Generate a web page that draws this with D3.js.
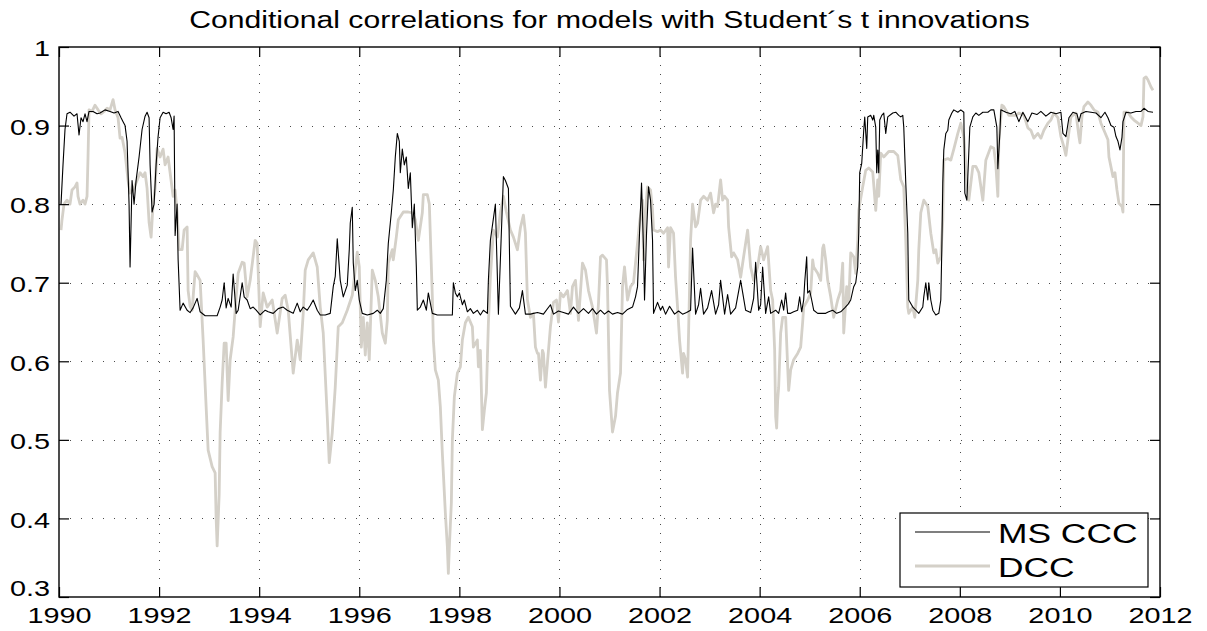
<!DOCTYPE html>
<html>
<head>
<meta charset="utf-8">
<script src="https://cdn.jsdelivr.net/npm/d3@7"></script>
<style>
  body { margin: 0; background: #fff; }
  svg { display: block; font-family: "Liberation Sans", Arial, sans-serif; }
</style>
</head>
<body>
<svg id="chart" width="1207" height="631" viewBox="0 0 1207 631"></svg>
<script>
const title = "Conditional correlations for models with Student´s t innovations";
const yearTicks = [1990, 1992, 1994, 1996, 1998, 2000, 2002, 2004, 2006, 2008, 2010, 2012];
const valueTicks = [0.3, 0.4, 0.5, 0.6, 0.7, 0.8, 0.9, 1];
const seriesNames = ["MS CCC", "DCC"];

// MS CCC (black)
const msYears = [
  1990.04, 1990.08, 1990.12, 1990.16, 1990.22, 1990.30, 1990.36, 1990.40, 1990.44, 1990.48,
  1990.52, 1990.56, 1990.60, 1990.68, 1990.76, 1990.82, 1990.92, 1991.02, 1991.10, 1991.18,
  1991.24, 1991.28, 1991.32, 1991.36, 1991.40, 1991.42, 1991.46, 1991.50, 1991.54, 1991.60,
  1991.66, 1991.72, 1991.76, 1991.80, 1991.82, 1991.86, 1991.90, 1991.94, 1991.98, 1992.02,
  1992.08, 1992.14, 1992.20, 1992.24, 1992.28, 1992.30, 1992.32, 1992.36, 1992.38, 1992.42,
  1992.48, 1992.56, 1992.62, 1992.68, 1992.76, 1992.82, 1992.92, 1993.16, 1993.22, 1993.26,
  1993.30, 1993.34, 1993.38, 1993.44, 1993.48, 1993.54, 1993.58, 1993.66, 1993.70, 1993.76,
  1993.82, 1993.88, 1993.94, 1994.02, 1994.12, 1994.18, 1994.28, 1994.38, 1994.48, 1994.56,
  1994.62, 1994.68, 1994.76, 1994.82, 1994.88, 1994.96, 1995.02, 1995.08, 1995.16, 1995.22,
  1995.32, 1995.42, 1995.48, 1995.52, 1995.56, 1995.62, 1995.68, 1995.76, 1995.80, 1995.82,
  1995.86, 1995.88, 1995.92, 1995.96, 1996.00, 1996.06, 1996.16, 1996.28, 1996.36, 1996.42,
  1996.48, 1996.54, 1996.58, 1996.64, 1996.68, 1996.72, 1996.76, 1996.80, 1996.82, 1996.86,
  1996.90, 1996.94, 1996.98, 1997.02, 1997.06, 1997.10, 1997.14, 1997.16, 1997.22, 1997.28,
  1997.34, 1997.38, 1997.46, 1997.56, 1997.76, 1997.86, 1997.88, 1997.92, 1997.96, 1998.00,
  1998.06, 1998.10, 1998.16, 1998.22, 1998.28, 1998.36, 1998.42, 1998.48, 1998.56, 1998.58,
  1998.62, 1998.72, 1998.78, 1998.88, 1998.92, 1998.98, 1999.02, 1999.12, 1999.20, 1999.26,
  1999.32, 1999.42, 1999.56, 1999.68, 1999.82, 1999.88, 1999.98, 2000.08, 2000.18, 2000.28,
  2000.38, 2000.48, 2000.58, 2000.66, 2000.74, 2000.82, 2000.90, 2000.98, 2001.06, 2001.16,
  2001.26, 2001.36, 2001.46, 2001.52, 2001.56, 2001.60, 2001.64, 2001.68, 2001.70, 2001.74,
  2001.78, 2001.82, 2001.86, 2001.88, 2001.96, 2002.02, 2002.06, 2002.12, 2002.20, 2002.30,
  2002.38, 2002.46, 2002.54, 2002.62, 2002.66, 2002.72, 2002.78, 2002.82, 2002.88, 2002.96,
  2003.04, 2003.12, 2003.18, 2003.22, 2003.30, 2003.36, 2003.42, 2003.52, 2003.62, 2003.72,
  2003.82, 2003.88, 2003.92, 2003.98, 2004.02, 2004.06, 2004.12, 2004.18, 2004.22, 2004.32,
  2004.38, 2004.44, 2004.48, 2004.52, 2004.56, 2004.62, 2004.68, 2004.76, 2004.80, 2004.84,
  2004.88, 2004.90, 2004.94, 2004.96, 2005.00, 2005.04, 2005.08, 2005.16, 2005.26, 2005.32,
  2005.38, 2005.46, 2005.54, 2005.62, 2005.70, 2005.76, 2005.82, 2005.88, 2005.92, 2005.96,
  2005.98, 2006.00, 2006.04, 2006.08, 2006.10, 2006.14, 2006.16, 2006.22, 2006.26, 2006.28,
  2006.32, 2006.34, 2006.36, 2006.38, 2006.40, 2006.44, 2006.48, 2006.52, 2006.56, 2006.66,
  2006.72, 2006.78, 2006.82, 2006.86, 2006.88, 2006.92, 2006.96, 2006.98, 2007.06, 2007.12,
  2007.18, 2007.26, 2007.28, 2007.32, 2007.36, 2007.38, 2007.42, 2007.46, 2007.52, 2007.58,
  2007.62, 2007.64, 2007.66, 2007.68, 2007.72, 2007.76, 2007.78, 2007.84, 2007.88, 2007.96,
  2008.02, 2008.08, 2008.10, 2008.14, 2008.16, 2008.20, 2008.26, 2008.32, 2008.38, 2008.46,
  2008.56, 2008.62, 2008.68, 2008.74, 2008.76, 2008.80, 2008.82, 2008.92, 2009.02, 2009.10,
  2009.18, 2009.26, 2009.36, 2009.44, 2009.54, 2009.62, 2009.72, 2009.82, 2009.92, 2010.02,
  2010.06, 2010.12, 2010.18, 2010.26, 2010.34, 2010.38, 2010.42, 2010.52, 2010.62, 2010.72,
  2010.82, 2010.90, 2010.96, 2011.02, 2011.08, 2011.12, 2011.16, 2011.20, 2011.24, 2011.26,
  2011.32, 2011.42, 2011.52, 2011.62, 2011.68, 2011.76, 2011.86
];
const msValues = [
  0.800, 0.850, 0.895, 0.915, 0.917, 0.912, 0.915, 0.888, 0.910, 0.905,
  0.915, 0.905, 0.918, 0.918, 0.915, 0.916, 0.920, 0.918, 0.916, 0.918,
  0.910, 0.905, 0.900, 0.880, 0.800, 0.720, 0.830, 0.800, 0.830, 0.860,
  0.895, 0.912, 0.917, 0.910, 0.850, 0.790, 0.800, 0.850, 0.886, 0.910,
  0.917, 0.915, 0.917, 0.910, 0.895, 0.912, 0.760, 0.800, 0.730, 0.665,
  0.674, 0.665, 0.662, 0.668, 0.680, 0.663, 0.658, 0.658, 0.669, 0.678,
  0.700, 0.668, 0.680, 0.669, 0.711, 0.661, 0.665, 0.700, 0.682, 0.678,
  0.667, 0.669, 0.665, 0.659, 0.665, 0.663, 0.661, 0.667, 0.669, 0.665,
  0.663, 0.661, 0.674, 0.663, 0.669, 0.665, 0.671, 0.678, 0.665, 0.659,
  0.659, 0.661, 0.695, 0.708, 0.756, 0.703, 0.682, 0.697, 0.742, 0.776,
  0.796, 0.725, 0.690, 0.703, 0.678, 0.661, 0.659, 0.661, 0.665, 0.661,
  0.667, 0.703, 0.750, 0.789, 0.818, 0.860, 0.890, 0.880, 0.840, 0.870,
  0.850, 0.860, 0.820, 0.840, 0.770, 0.800, 0.720, 0.665, 0.669, 0.678,
  0.665, 0.687, 0.661, 0.659, 0.659, 0.659, 0.700, 0.687, 0.682, 0.687,
  0.672, 0.678, 0.663, 0.667, 0.661, 0.665, 0.659, 0.665, 0.661, 0.703,
  0.754, 0.800, 0.660, 0.835, 0.830, 0.820, 0.670, 0.660, 0.668, 0.690,
  0.660, 0.660, 0.662, 0.660, 0.672, 0.660, 0.664, 0.662, 0.660, 0.669,
  0.661, 0.667, 0.661, 0.667, 0.660, 0.665, 0.660, 0.664, 0.660, 0.662,
  0.660, 0.666, 0.669, 0.682, 0.695, 0.763, 0.827, 0.742, 0.678, 0.763,
  0.822, 0.805, 0.754, 0.661, 0.675, 0.665, 0.670, 0.660, 0.670, 0.660,
  0.664, 0.660, 0.662, 0.665, 0.744, 0.660, 0.672, 0.693, 0.660, 0.668,
  0.690, 0.660, 0.672, 0.703, 0.660, 0.685, 0.660, 0.668, 0.703, 0.665,
  0.662, 0.680, 0.726, 0.665, 0.672, 0.720, 0.661, 0.682, 0.661, 0.665,
  0.661, 0.678, 0.665, 0.687, 0.661, 0.661, 0.663, 0.665, 0.682, 0.663,
  0.678, 0.700, 0.733, 0.687, 0.690, 0.678, 0.665, 0.661, 0.661, 0.661,
  0.663, 0.665, 0.661, 0.663, 0.668, 0.672, 0.678, 0.695, 0.700, 0.720,
  0.763, 0.840, 0.852, 0.894, 0.911, 0.871, 0.911, 0.913, 0.907, 0.913,
  0.898, 0.840, 0.869, 0.840, 0.907, 0.913, 0.916, 0.890, 0.911, 0.916,
  0.917, 0.913, 0.911, 0.913, 0.898, 0.827, 0.763, 0.678, 0.669, 0.665,
  0.661, 0.669, 0.682, 0.700, 0.678, 0.700, 0.678, 0.665, 0.659, 0.661,
  0.678, 0.742, 0.827, 0.869, 0.890, 0.894, 0.907, 0.916, 0.920, 0.917,
  0.920, 0.917, 0.814, 0.805, 0.835, 0.898, 0.911, 0.916, 0.913, 0.917,
  0.917, 0.920, 0.920, 0.898, 0.845, 0.890, 0.920, 0.917, 0.915, 0.918,
  0.905, 0.917, 0.905, 0.916, 0.914, 0.918, 0.912, 0.917, 0.915, 0.917,
  0.890, 0.886, 0.910, 0.917, 0.915, 0.905, 0.915, 0.918, 0.917, 0.916,
  0.910, 0.917, 0.910, 0.900, 0.898, 0.886, 0.880, 0.869, 0.885, 0.905,
  0.917, 0.916, 0.918, 0.918, 0.922, 0.918, 0.917
];

// DCC (light grey)
const dccYears = [
  1990.04, 1990.06, 1990.10, 1990.16, 1990.22, 1990.26, 1990.32, 1990.36, 1990.38, 1990.42,
  1990.48, 1990.52, 1990.56, 1990.58, 1990.60, 1990.66, 1990.72, 1990.78, 1990.84, 1990.90,
  1990.96, 1991.02, 1991.08, 1991.12, 1991.18, 1991.22, 1991.26, 1991.32, 1991.38, 1991.42,
  1991.48, 1991.56, 1991.62, 1991.68, 1991.72, 1991.76, 1991.80, 1991.84, 1991.88, 1991.92,
  1991.96, 1992.02, 1992.08, 1992.12, 1992.18, 1992.22, 1992.28, 1992.32, 1992.36, 1992.40,
  1992.46, 1992.50, 1992.56, 1992.58, 1992.62, 1992.66, 1992.72, 1992.76, 1992.82, 1992.88,
  1992.94, 1992.98, 1993.06, 1993.12, 1993.14, 1993.16, 1993.20, 1993.22, 1993.26, 1993.30,
  1993.34, 1993.38, 1993.42, 1993.48, 1993.54, 1993.58, 1993.66, 1993.70, 1993.76, 1993.82,
  1993.92, 1993.96, 1994.02, 1994.08, 1994.16, 1994.26, 1994.36, 1994.46, 1994.52, 1994.58,
  1994.68, 1994.76, 1994.82, 1994.88, 1994.92, 1994.98, 1995.08, 1995.16, 1995.22, 1995.28,
  1995.36, 1995.40, 1995.46, 1995.52, 1995.58, 1995.66, 1995.76, 1995.86, 1995.96, 1996.00,
  1996.04, 1996.08, 1996.12, 1996.16, 1996.20, 1996.26, 1996.32, 1996.38, 1996.46, 1996.52,
  1996.56, 1996.58, 1996.66, 1996.68, 1996.74, 1996.78, 1996.88, 1996.98, 1997.06, 1997.12,
  1997.18, 1997.26, 1997.28, 1997.36, 1997.40, 1997.46, 1997.48, 1997.52, 1997.58, 1997.62,
  1997.66, 1997.68, 1997.72, 1997.76, 1997.78, 1997.80, 1997.84, 1997.86, 1997.90, 1997.96,
  1998.02, 1998.06, 1998.12, 1998.18, 1998.26, 1998.28, 1998.36, 1998.38, 1998.42, 1998.46,
  1998.50, 1998.54, 1998.58, 1998.62, 1998.68, 1998.76, 1998.82, 1998.88, 1998.94, 1999.02,
  1999.08, 1999.16, 1999.22, 1999.28, 1999.32, 1999.36, 1999.42, 1999.48, 1999.52, 1999.56,
  1999.58, 1999.62, 1999.66, 1999.68, 1999.72, 1999.76, 1999.82, 1999.88, 1999.94, 1999.98,
  2000.02, 2000.08, 2000.16, 2000.22, 2000.26, 2000.32, 2000.38, 2000.46, 2000.52, 2000.58,
  2000.66, 2000.74, 2000.78, 2000.82, 2000.86, 2000.94, 2000.96, 2001.00, 2001.06, 2001.12,
  2001.16, 2001.22, 2001.26, 2001.30, 2001.36, 2001.42, 2001.48, 2001.56, 2001.60, 2001.66,
  2001.68, 2001.72, 2001.76, 2001.82, 2001.86, 2001.88, 2001.96, 2002.02, 2002.08, 2002.16,
  2002.18, 2002.22, 2002.28, 2002.32, 2002.36, 2002.40, 2002.46, 2002.48, 2002.52, 2002.56,
  2002.58, 2002.62, 2002.66, 2002.72, 2002.76, 2002.82, 2002.88, 2002.96, 2003.02, 2003.08,
  2003.12, 2003.16, 2003.22, 2003.26, 2003.30, 2003.36, 2003.38, 2003.44, 2003.48, 2003.56,
  2003.62, 2003.68, 2003.76, 2003.82, 2003.88, 2003.96, 2004.02, 2004.08, 2004.16, 2004.22,
  2004.26, 2004.30, 2004.32, 2004.34, 2004.36, 2004.38, 2004.42, 2004.46, 2004.52, 2004.56,
  2004.58, 2004.62, 2004.68, 2004.76, 2004.82, 2004.86, 2004.88, 2004.96, 2005.02, 2005.06,
  2005.08, 2005.16, 2005.22, 2005.26, 2005.28, 2005.32, 2005.36, 2005.42, 2005.48, 2005.56,
  2005.62, 2005.66, 2005.68, 2005.74, 2005.78, 2005.82, 2005.88, 2005.92, 2005.96, 2005.98,
  2006.00, 2006.06, 2006.12, 2006.18, 2006.26, 2006.32, 2006.36, 2006.38, 2006.42, 2006.48,
  2006.58, 2006.68, 2006.76, 2006.82, 2006.88, 2006.92, 2006.96, 2006.98, 2007.06, 2007.10,
  2007.16, 2007.18, 2007.22, 2007.28, 2007.36, 2007.42, 2007.48, 2007.52, 2007.56, 2007.62,
  2007.66, 2007.68, 2007.76, 2007.82, 2007.88, 2007.96, 2008.02, 2008.08, 2008.14, 2008.18,
  2008.26, 2008.32, 2008.38, 2008.46, 2008.52, 2008.62, 2008.68, 2008.72, 2008.76, 2008.78,
  2008.84, 2008.88, 2008.98, 2009.12, 2009.18, 2009.28, 2009.36, 2009.42, 2009.48, 2009.56,
  2009.62, 2009.68, 2009.76, 2009.82, 2009.88, 2009.96, 2010.02, 2010.08, 2010.12, 2010.16,
  2010.22, 2010.32, 2010.38, 2010.40, 2010.44, 2010.48, 2010.56, 2010.62, 2010.68, 2010.76,
  2010.82, 2010.88, 2010.96, 2010.98, 2011.06, 2011.10, 2011.14, 2011.18, 2011.24, 2011.26,
  2011.28, 2011.36, 2011.42, 2011.48, 2011.56, 2011.62, 2011.66, 2011.68, 2011.72, 2011.76,
  2011.82, 2011.86
];
const dccValues = [
  0.767, 0.780, 0.800, 0.805, 0.800, 0.818, 0.822, 0.827, 0.810, 0.800,
  0.805, 0.800, 0.810, 0.860, 0.920, 0.918, 0.926, 0.920, 0.915, 0.918,
  0.922, 0.920, 0.933, 0.920, 0.910, 0.884, 0.885, 0.865, 0.830, 0.814,
  0.818, 0.830, 0.840, 0.835, 0.840, 0.820, 0.777, 0.758, 0.800, 0.820,
  0.871, 0.860, 0.870, 0.850, 0.860, 0.840, 0.810, 0.818, 0.790, 0.742,
  0.742, 0.767, 0.771, 0.690, 0.670, 0.665, 0.714, 0.710, 0.703, 0.627,
  0.542, 0.487, 0.466, 0.458, 0.400, 0.365, 0.430, 0.510, 0.572, 0.623,
  0.623, 0.550, 0.602, 0.631, 0.682, 0.712, 0.726, 0.725, 0.682, 0.703,
  0.754, 0.750, 0.644, 0.687, 0.669, 0.678, 0.636, 0.680, 0.684, 0.665,
  0.585, 0.627, 0.602, 0.661, 0.716, 0.729, 0.738, 0.720, 0.669, 0.636,
  0.530, 0.471, 0.509, 0.567, 0.644, 0.649, 0.665, 0.684, 0.739, 0.720,
  0.618, 0.656, 0.608, 0.649, 0.602, 0.716, 0.703, 0.682, 0.636, 0.623,
  0.652, 0.725, 0.742, 0.729, 0.758, 0.780, 0.790, 0.790, 0.789, 0.780,
  0.754, 0.789, 0.812, 0.812, 0.800, 0.682, 0.627, 0.589, 0.576, 0.542,
  0.483, 0.458, 0.407, 0.364, 0.330, 0.364, 0.420, 0.500, 0.555, 0.585,
  0.593, 0.627, 0.649, 0.656, 0.644, 0.618, 0.627, 0.593, 0.614, 0.513,
  0.538, 0.560, 0.649, 0.707, 0.767, 0.758, 0.789, 0.810, 0.790, 0.767,
  0.758, 0.742, 0.770, 0.786, 0.763, 0.678, 0.656, 0.661, 0.618, 0.610,
  0.610, 0.576, 0.614, 0.610, 0.567, 0.598, 0.644, 0.675, 0.678, 0.650,
  0.687, 0.682, 0.690, 0.661, 0.695, 0.703, 0.652, 0.725, 0.716, 0.690,
  0.669, 0.636, 0.674, 0.733, 0.735, 0.729, 0.695, 0.563, 0.510, 0.530,
  0.560, 0.585, 0.695, 0.720, 0.678, 0.695, 0.700, 0.750, 0.776, 0.805,
  0.729, 0.792, 0.822, 0.818, 0.792, 0.767, 0.765, 0.767, 0.763, 0.770,
  0.720, 0.770, 0.763, 0.707, 0.669, 0.627, 0.585, 0.610, 0.602, 0.580,
  0.636, 0.754, 0.800, 0.771, 0.776, 0.805, 0.810, 0.805, 0.814, 0.789,
  0.800, 0.797, 0.831, 0.805, 0.810, 0.805, 0.771, 0.733, 0.738, 0.729,
  0.707, 0.733, 0.767, 0.720, 0.703, 0.720, 0.746, 0.729, 0.746, 0.690,
  0.678, 0.614, 0.530, 0.515, 0.550, 0.567, 0.636, 0.656, 0.656, 0.593,
  0.563, 0.589, 0.602, 0.610, 0.618, 0.650, 0.669, 0.678, 0.687, 0.729,
  0.720, 0.712, 0.703, 0.744, 0.748, 0.729, 0.703, 0.682, 0.656, 0.678,
  0.690, 0.725, 0.636, 0.695, 0.674, 0.738, 0.733, 0.712, 0.754, 0.792,
  0.800, 0.822, 0.843, 0.846, 0.841, 0.792, 0.831, 0.810, 0.865, 0.860,
  0.867, 0.867, 0.862, 0.831, 0.822, 0.754, 0.669, 0.661, 0.669, 0.656,
  0.703, 0.742, 0.789, 0.805, 0.797, 0.763, 0.738, 0.742, 0.725, 0.733,
  0.780, 0.856, 0.858, 0.856, 0.870, 0.890, 0.903, 0.886, 0.831, 0.805,
  0.848, 0.848, 0.840, 0.805, 0.856, 0.873, 0.871, 0.850, 0.810, 0.880,
  0.926, 0.924, 0.913, 0.913, 0.916, 0.913, 0.897, 0.894, 0.884, 0.890,
  0.884, 0.894, 0.903, 0.907, 0.916, 0.910, 0.886, 0.873, 0.862, 0.882,
  0.911, 0.916, 0.886, 0.878, 0.911, 0.924, 0.930, 0.926, 0.920, 0.917,
  0.903, 0.894, 0.882, 0.860, 0.835, 0.840, 0.818, 0.801, 0.797, 0.790,
  0.917, 0.917, 0.911, 0.907, 0.903, 0.900, 0.911, 0.960, 0.962, 0.958,
  0.949, 0.945
];

const svg = d3.select("#chart");
const plotLeft = 59, plotRight = 1160, plotTop = 47, plotBottom = 597;
const stretch = 1.31; // glyphs in the reference are wider than tall

const x = d3.scaleLinear().domain([1990, 2012]).range([plotLeft, plotRight]);
const y = d3.scaleLinear().domain([0.3, 1]).range([plotBottom, plotTop]);

svg.append("rect").attr("width", 1207).attr("height", 631).attr("fill", "#fff");

svg.append("defs").append("clipPath").attr("id", "plotclip")
  .append("rect")
  .attr("x", plotLeft).attr("y", plotTop)
  .attr("width", plotRight - plotLeft).attr("height", plotBottom - plotTop);

// dotted grid
const grid = svg.append("g").attr("stroke", "#000").attr("stroke-width", 1).attr("opacity", 0.7);
grid.selectAll(".vg")
  .data(yearTicks.slice(1, -1))
  .enter().append("line")
  .attr("x1", d => Math.round(x(d)) + 0.5).attr("x2", d => Math.round(x(d)) + 0.5)
  .attr("y1", plotTop).attr("y2", plotBottom)
  .attr("stroke-dasharray", "1,8");
grid.selectAll(".hg")
  .data(valueTicks.slice(1, -1))
  .enter().append("line")
  .attr("y1", d => Math.round(y(d)) + 0.5).attr("y2", d => Math.round(y(d)) + 0.5)
  .attr("x1", plotLeft).attr("x2", plotRight)
  .attr("stroke-dasharray", "1,10");

// series
const plot = svg.append("g").attr("clip-path", "url(#plotclip)");
const line = d3.line().x(d => x(d[0])).y(d => y(d[1]));

plot.append("path")
  .datum(d3.zip(dccYears, dccValues))
  .attr("fill", "none")
  .attr("stroke", "#d4d0c8")
  .attr("stroke-width", 2.8)
  .attr("stroke-linejoin", "round")
  .attr("d", line);

plot.append("path")
  .datum(d3.zip(msYears, msValues))
  .attr("fill", "none")
  .attr("stroke", "#000")
  .attr("stroke-width", 1.1)
  .attr("stroke-linejoin", "round")
  .attr("d", line);

// axes: ticks point inward on all four sides
const fontSize = 22;
const xb = svg.append("g").attr("transform", `translate(0,${plotBottom})`)
  .call(d3.axisBottom(x).tickValues(yearTicks).tickFormat(d3.format("d")).tickSizeInner(-10).tickSizeOuter(0));
const xt = svg.append("g").attr("transform", `translate(0,${plotTop})`)
  .call(d3.axisTop(x).tickValues(yearTicks).tickFormat("").tickSizeInner(-10).tickSizeOuter(0));
const yl = svg.append("g").attr("transform", `translate(${plotLeft},0)`)
  .call(d3.axisLeft(y).tickValues(valueTicks).tickFormat(d => d === 1 ? "1" : d3.format(".1f")(d)).tickSizeInner(-10).tickSizeOuter(0));
const yr = svg.append("g").attr("transform", `translate(${plotRight},0)`)
  .call(d3.axisRight(y).tickValues(valueTicks).tickFormat("").tickSizeInner(-10).tickSizeOuter(0));

[xb, xt, yl, yr].forEach(g => {
  g.select(".domain").remove();
  g.selectAll(".tick line").attr("stroke", "#000").attr("stroke-width", 1.2);
});

xb.selectAll(".tick text")
  .attr("fill", "#000")
  .style("font-family", "'Liberation Sans', Arial, sans-serif")
  .style("font-size", fontSize + "px")
  .attr("y", 26).attr("dy", null)
  .attr("transform", `scale(${stretch},1)`);

yl.selectAll(".tick text")
  .attr("fill", "#000")
  .style("font-family", "'Liberation Sans', Arial, sans-serif")
  .style("font-size", fontSize + "px")
  .attr("x", -9 / stretch)
  .attr("dy", d => d === 0.3 ? "-0.05em" : "0.4em")
  .attr("transform", `scale(${stretch},1)`);

// frame
svg.append("rect")
  .attr("x", plotLeft).attr("y", plotTop)
  .attr("width", plotRight - plotLeft).attr("height", plotBottom - plotTop)
  .attr("fill", "none").attr("stroke", "#000").attr("stroke-width", 1.4);

// title
svg.append("text")
  .attr("transform", `translate(${(plotLeft + plotRight) / 2},28) scale(${stretch},1)`)
  .attr("text-anchor", "middle")
  .style("font-size", "23px")
  .attr("fill", "#000")
  .text(title);

// legend
const legend = svg.append("g").attr("transform", "translate(900,513)");
legend.append("rect")
  .attr("width", 248).attr("height", 74)
  .attr("fill", "#fff").attr("stroke", "#000").attr("stroke-width", 1.2);
const legendStyles = [
  { color: "#000", width: 1.1 },
  { color: "#d4d0c8", width: 2.8 }
];
seriesNames.forEach((name, i) => {
  const cy = 19 + i * 34;
  legend.append("line")
    .attr("x1", 15).attr("x2", 90)
    .attr("y1", cy).attr("y2", cy)
    .attr("stroke", legendStyles[i].color)
    .attr("stroke-width", legendStyles[i].width);
  legend.append("text")
    .attr("transform", `translate(98,${cy + 11}) scale(${stretch},1)`)
    .style("font-size", "27px")
    .attr("fill", "#000")
    .text(name);
});
</script>
</body>
</html>
